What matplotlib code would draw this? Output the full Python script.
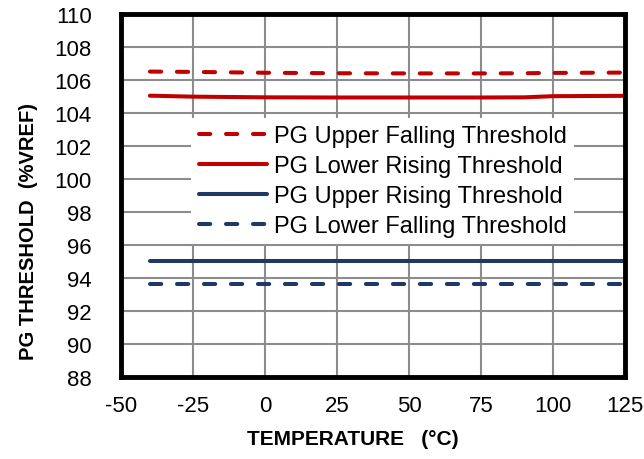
import matplotlib.pyplot as plt
import numpy as np

RED = "#C00000"
NAVY = "#1F3864"
GRID = "#8C8C8C"

temp = [-40, -25, 0, 25, 50, 75, 90, 100, 125]
upper_falling = [106.52, 106.5, 106.45, 106.42, 106.41, 106.41, 106.42, 106.44, 106.46]
lower_rising = [105.06, 105.0, 104.96, 104.95, 104.95, 104.95, 104.96, 105.03, 105.05]
upper_rising = [95.02, 95.02, 95.02, 95.02, 95.02, 95.02, 95.02, 95.02, 95.02]
lower_falling = [93.62, 93.62, 93.62, 93.62, 93.62, 93.62, 93.62, 93.62, 93.62]

x_ticks = [-50, -25, 0, 25, 50, 75, 100, 125]
y_ticks = list(range(88, 111, 2))

plt.rcParams["font.family"] = ["Liberation Sans", "DejaVu Sans"]
plt.rcParams["axes.unicode_minus"] = False

fig = plt.figure(figsize=(6.44, 4.6), dpi=100)
ax = fig.add_axes([0.188, 0.178, 0.783, 0.789])

dash = (0, (2.8, 3.9))
ax.plot(temp, upper_falling, color=RED, lw=2.9, ls=dash,
        dash_capstyle="round", label="PG Upper Falling Threshold")
ax.plot(temp, lower_rising, color=RED, lw=2.9, solid_capstyle="round",
        label="PG Lower Rising Threshold")
ax.plot(temp, upper_rising, color=NAVY, lw=2.9, solid_capstyle="round",
        label="PG Upper Rising Threshold")
ax.plot(temp, lower_falling, color=NAVY, lw=2.9, ls=dash,
        dash_capstyle="round", label="PG Lower Falling Threshold")

ax.set_xlim(-50, 125)
ax.set_ylim(88, 110)
ax.set_xticks(x_ticks)
ax.set_yticks(y_ticks)
ax.grid(True, color=GRID, lw=1.5)
ax.set_axisbelow(True)
ax.tick_params(length=0, labelsize=16)
ax.tick_params(axis="y", pad=21)
ax.tick_params(axis="x", pad=13)
for s in ax.spines.values():
    s.set_linewidth(3.5)
    s.set_color("black")

ax.set_xlabel("TEMPERATURE   (°C)", fontsize=15, fontweight="bold")
ax.set_ylabel("PG THRESHOLD  (%VREF)", fontsize=14.5, fontweight="bold")
ax.xaxis.set_label_coords(0.46, -0.143)
ax.yaxis.set_label_coords(-0.165, 0.405)

leg = ax.legend(loc="center", bbox_to_anchor=(0.519, 0.54), fontsize=17,
                frameon=True, fancybox=False, edgecolor="none",
                framealpha=1, handlelength=2.9, handletextpad=0.3,
                labelspacing=0.34, borderpad=0.3, borderaxespad=0)

fig.savefig("out.png", dpi=100, facecolor="white")
